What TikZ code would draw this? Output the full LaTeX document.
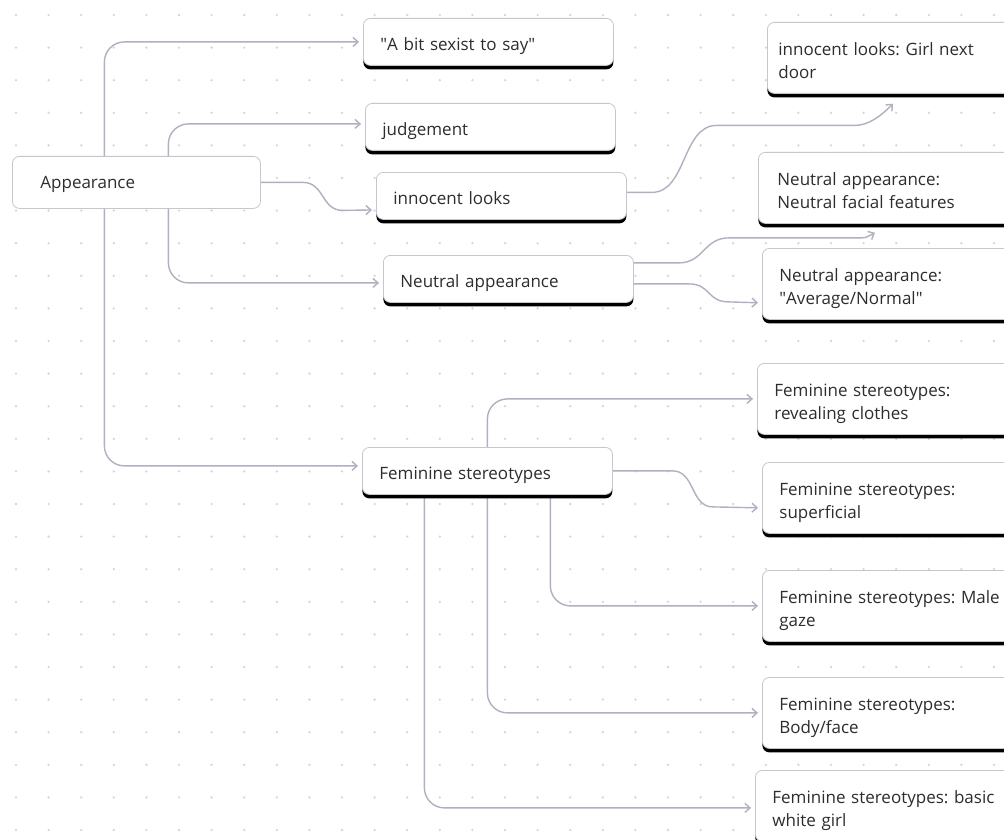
\documentclass[tikz,border=0pt]{standalone}
\usepackage{fontspec}
\setmainfont{Open Sans}
\usetikzlibrary{arrows.meta,shadows,calc}
\definecolor{dotc}{RGB}{214,214,222}
\definecolor{linec}{RGB}{176,176,192}
\definecolor{boxc}{RGB}{198,198,206}
\definecolor{txtc}{RGB}{45,45,45}
\pgfdeclarelayer{bg}
\pgfsetlayers{bg,main}
\begin{document}
\frenchspacing
\begin{tikzpicture}[x=1pt,y=-1pt,
  base/.style={draw=boxc, line width=0.8pt, fill=white, rounded corners=7pt,
    anchor=north west, align=left, text=txtc,
    font=\fontsize{17}{23}\selectfont\frenchspacing, inner ysep=2pt},
  lbox/.style={base, general shadow={fill=black, shadow yshift=-4pt},
    inner xsep=17pt, text width=216pt, minimum height=47pt,
    text height=22pt, text depth=4pt},
  rbox/.style={base, general shadow={fill=black, shadow yshift=-4pt},
    inner xsep=17pt, text width=236pt, minimum height=71pt,
    text height=23pt, text depth=27pt},
  conn/.style={draw=linec, line width=1.4pt, rounded corners=20pt,
    shorten >=4pt, -{Straight Barb[length=5pt,width=9pt]}},
  sconn/.style={conn, sharp corners}
]
\useasboundingbox (0,0) rectangle (1004,840);
\clip (0,0) rectangle (1004,840);

% nodes
\node[base, inner xsep=28pt, text width=192pt, minimum height=52pt,
      text height=17pt, text depth=4pt] (app) at (12,156) {Appearance};
\node[lbox] (sexist) at (363,18) {\textquotedbl A bit sexist to say\textquotedbl};
\node[lbox] (judge) at (365,103) {judgement};
\node[lbox] (inno) at (376,172) {innocent looks};
\node[lbox] (neutral) at (383,255) {Neutral appearance};
\node[lbox] (fem) at (362,447) {Feminine stereotypes};
\node[rbox, inner xsep=11pt] (girl) at (767,22) {innocent looks: Girl next\\door};
\node[rbox, inner xsep=19pt] (facial) at (758,152) {Neutral appearance:\\Neutral facial features};
\node[rbox] (avg) at (762,248) {Neutral appearance:\\\textquotedbl Average/Normal\textquotedbl};
\node[rbox] (reveal) at (757,363) {Feminine stereotypes:\\revealing clothes};
\node[rbox] (sup) at (762,462) {Feminine stereotypes:\\superficial};
\node[rbox] (male) at (762,570) {Feminine stereotypes: Male\\gaze};
\node[rbox] (body) at (762,677) {Feminine stereotypes:\\Body/face};
\node[rbox] (basic) at (755,770) {Feminine stereotypes: basic\\white girl};

\begin{pgfonlayer}{bg}
  \fill[white] (0,0) rectangle (1004,840);
  \foreach \i in {0,...,30}
    \foreach \j in {0,...,25}
      \fill[dotc] (16+32.6*\i, 15+32.6*\j) circle (1.3pt);

  % from Appearance
  \draw[conn] ([xshift=-32pt]app.north) |- (sexist.west);
  \draw[conn] ([xshift=32pt]app.north) |- ([yshift=3pt]judge.west);
  \draw[sconn] (app.east) -- ++(42,0) .. controls +(22,0) and +(-22,0) .. ++(40,28)
     -- ([yshift=-14pt]inno.west);
  \draw[conn] ([xshift=32pt]app.south) |- ([yshift=-4pt]neutral.west);
  \draw[conn] ([xshift=-32pt]app.south) |- ([yshift=5pt]fem.west);

  % from innocent looks
  \draw[sconn, shorten >=0pt] ([yshift=3.5pt]inno.east) -- ++(25,0)
     .. controls +(35,0) and +(-35,0) .. ++(65,-67) -- ++(138,0)
     .. controls +(14,0) and +(-12,12) .. ($(girl.south west)+(126,10)$);

  % from Neutral appearance
  \draw[sconn, shorten >=0pt] ([yshift=16pt]neutral.east) -- ++(45,0)
     .. controls +(25,0) and +(-25,0) .. ++(50,-25) -- ++(127,0)
     .. controls +(12,0) and +(-10,5) .. ($(facial.south west)+(117,9)$);
  \draw[sconn] ([yshift=-5pt]neutral.east) -- ++(55,0)
     .. controls +(22,0) and +(-22,0) .. ++(40,18) -- ([yshift=-19pt]avg.west);

  % from Feminine stereotypes
  \draw[conn] (fem.north) |- (reveal.west);
  \draw[sconn] (fem.east) -- ++(60,0) .. controls +(22,0) and +(-22,0) .. ++(40,36)
     -- ([yshift=-10pt]sup.west);
  \draw[conn] ([xshift=63pt]fem.south) |- (male.west);
  \draw[conn] (fem.south) |- (body.west);
  \draw[conn] ([xshift=-63pt]fem.south) |- ([yshift=-2pt]basic.west);
\end{pgfonlayer}
\end{tikzpicture}
\end{document}
